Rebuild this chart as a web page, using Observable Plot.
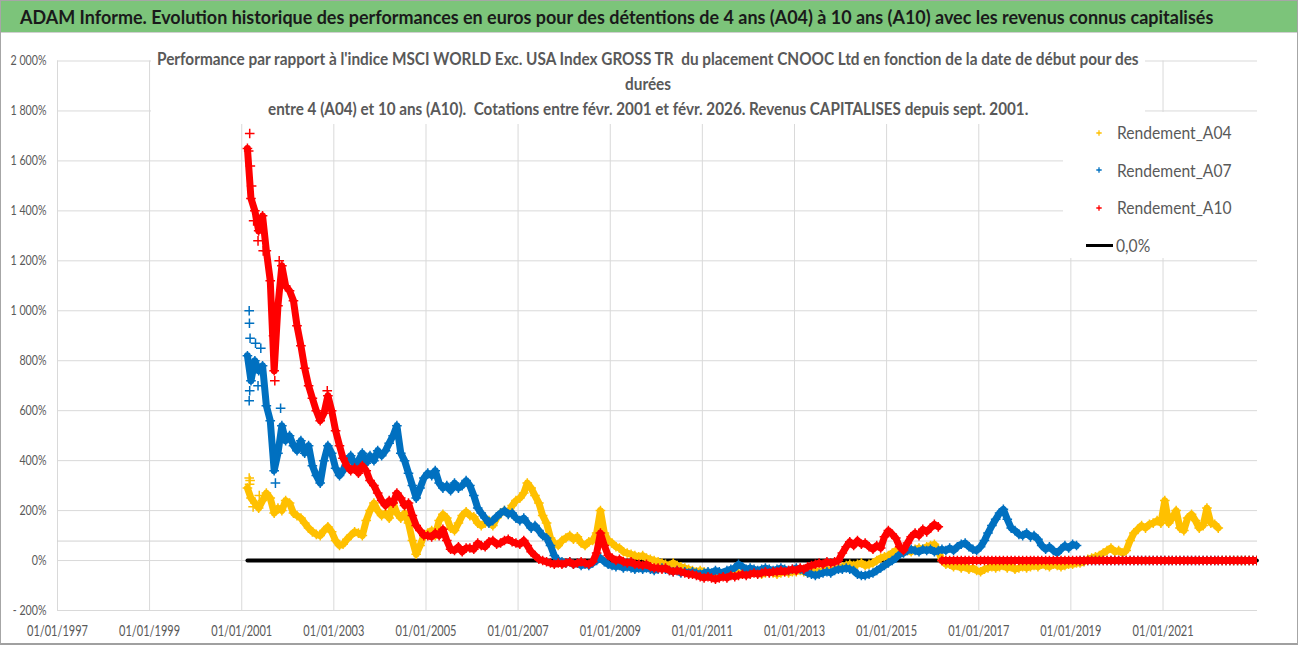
<!DOCTYPE html>
<html><head><meta charset="utf-8">
<script src="https://cdn.jsdelivr.net/npm/d3@7"></script>
<script src="https://cdn.jsdelivr.net/npm/@observablehq/plot@0.6"></script>
<style>
body{margin:0;background:#fff;}
#page{position:relative;width:1302px;height:647px;overflow:hidden;background:#fff;}
#titlebar{position:absolute;left:1px;top:1px;width:1296px;height:31px;background:#7cc47a;border-bottom:1px solid #d0d0d0;}
#chart{position:absolute;left:0;top:32px;}
#frame{position:absolute;left:0;top:0;width:1298px;height:645px;box-sizing:border-box;border:1px solid #a6a6a6;border-bottom:2px solid #a0a0a0;pointer-events:none;}
.box{position:absolute;background:#fff;}
</style></head>
<body><div id="page"><div id="titlebar"></div><div id="chart"></div>
<div class="box" id="subbox" style="left:151px;top:44px;width:994px;height:80px;"></div>
<div class="box" id="legbox" style="left:1063px;top:112px;width:197px;height:146px;"></div>
<div id="frame"></div></div>
<script>
const FONT = "Lato,'Open Sans','DejaVu Sans',sans-serif";

// ---- texts ----
const titleText = "ADAM Informe. Evolution historique des performances en euros pour des détentions de 4 ans (A04) à 10 ans (A10) avec les revenus connus capitalisés";
const subtitleLines = [
  "Performance par rapport à l'indice MSCI WORLD Exc. USA Index GROSS TR  du placement CNOOC Ltd en fonction de la date de début pour des",
  "durées",
  "entre 4 (A04) et 10 ans (A10).  Cotations entre févr. 2001 et févr. 2026. Revenus CAPITALISES depuis sept. 2001."
];
const seriesNames = ["Rendement_A04", "Rendement_A07", "Rendement_A10"];
const seriesColors = ["#FFC000", "#0070C0", "#FF0000"];
const zeroName = "0,0%";

// ---- axes ----
const xTickYears = [1997, 1999, 2001, 2003, 2005, 2007, 2009, 2011, 2013, 2015, 2017, 2019, 2021];
const yTicks = [-200, 0, 200, 400, 600, 800, 1000, 1200, 1400, 1600, 1800, 2000];
const xDomain = ["1997-01-01", "2023-01-20"];
const artifactLine = 78;

// ---- monthly values (%), one per month from Feb 2001 to Jan 2023 ----
const a04 = [
  290,250,230,210,240,270,250,190,210,200,240,            // 2001 Feb-Dec
  230,190,180,170,150,130,115,105,100,120,135,115,        // 2002
  80,60,65,85,100,115,110,100,160,200,230,200,            // 2003
  180,190,170,230,190,170,190,150,80,25,60,100,           // 2004
  110,120,100,160,185,170,130,120,150,180,195,180,        // 2005
  175,150,140,150,160,140,170,190,200,190,220,240,        // 2006
  250,270,310,290,260,230,180,150,90,70,60,80,            // 2007
  90,100,85,95,70,60,75,80,110,200,110,80,                // 2008
  70,55,50,35,30,25,20,15,20,10,5,0,                      // 2009
  -5,-10,-15,-20,-10,-20,-25,-30,-35,-40,-45,-40,         // 2010
  -45,-50,-55,-50,-55,-60,-55,-50,-55,-50,-55,-50,        // 2011
  -50,-45,-50,-55,-50,-45,-50,-55,-50,-45,-50,-45,        // 2012
  -45,-40,-45,-50,-45,-40,-45,-40,-35,-40,-35,-30,        // 2013
  -25,-20,-15,-20,-15,-10,-20,-15,-10,0,10,15,            // 2014
  20,30,40,35,45,40,35,45,50,45,55,60,                    // 2015
  65,40,0,-15,-15,-25,-20,-30,-25,-35,-30,-40,            // 2016
  -45,-35,-30,-25,-30,-25,-20,-30,-25,-35,-30,-25,        // 2017
  -30,-25,-20,-25,-15,-20,-25,-15,-20,-25,-20,-15,        // 2018
  -15,-10,-10,-5,5,10,15,20,30,40,50,35,                  // 2019
  40,30,40,80,110,125,140,130,145,150,160,150,            // 2020
  240,150,170,200,130,120,170,185,160,130,140,210,        // 2021
  150,145,130,0,0,0,0,0,0,0,0,0,                          // 2022
  0                                                       // 2023 Jan
];
const a07 = [
  820,720,800,760,780,620,560,360,430,540,480,            // 2001 Feb-Dec
  500,460,440,480,430,460,380,340,310,400,460,430,        // 2002
  370,340,360,400,420,380,400,430,390,420,400,440,        // 2003
  420,440,470,500,540,430,400,350,300,250,290,330,        // 2004
  350,340,360,310,290,300,280,310,290,300,320,300,        // 2005
  260,210,190,170,150,160,175,190,200,185,190,170,        // 2006
  160,170,150,130,140,120,100,90,60,20,0,-5,              // 2007
  -10,-5,-15,-10,-20,-15,-20,-10,0,10,-5,-15,             // 2008
  -20,-25,-20,-30,-25,-30,-35,-30,-35,-30,-35,-40,        // 2009
  -35,-30,-35,-40,-45,-40,-50,-45,-50,-45,-50,-55,        // 2010
  -50,-45,-50,-40,-45,-50,-40,-35,-30,-15,-25,-35,        // 2011
  -30,-35,-40,-35,-30,-35,-40,-35,-30,-35,-40,-35,        // 2012
  -30,-35,-40,-50,-55,-60,-55,-50,-45,-50,-40,-35,        // 2013
  -35,-30,-35,-40,-55,-60,-60,-55,-50,-40,-30,-20,        // 2014
  -10,0,10,25,30,40,45,40,35,45,40,45,                    // 2015
  35,40,45,40,50,40,55,65,70,55,45,40,                    // 2016
  55,80,110,140,165,190,205,165,130,120,105,100,          // 2017
  110,95,100,85,60,45,55,40,30,45,60,50,                  // 2018
  65,60,0,0,0,0,0,0,0,0,0,0,                              // 2019
  0,0,0,0,0,0,0,0,0,0,0,0,                                // 2020
  0,0,0,0,0,0,0,0,0,0,0,0,                                // 2021
  0,0,0,0,0,0,0,0,0,0,0,0,                                // 2022
  0                                                       // 2023 Jan
];
const a10 = [
  1650,1450,1400,1320,1380,1240,1120,760,1020,1180,1100,  // 2001 Feb-Dec
  1080,1040,940,860,770,700,650,600,560,590,660,600,      // 2002
  520,460,410,380,360,370,350,380,360,320,300,270,        // 2003
  240,220,240,230,270,250,220,230,180,140,120,100,        // 2004
  100,95,110,100,125,80,45,40,55,35,50,50,                // 2005
  45,70,60,55,75,80,65,70,80,85,75,70,                    // 2006
  65,80,60,35,20,5,0,-5,-10,-15,-10,-15,                  // 2007
  -10,-5,-15,-10,-5,-10,-15,-5,30,110,60,20,              // 2008
  10,0,5,-5,-10,-5,-15,-15,-20,-15,-25,-30,               // 2009
  -30,-35,-30,-40,-45,-40,-45,-50,-55,-55,-60,-65,        // 2010
  -70,-65,-70,-75,-70,-65,-70,-60,-65,-60,-55,-60,        // 2011
  -55,-50,-55,-50,-45,-50,-45,-45,-40,-45,-40,-35,        // 2012
  -40,-30,-35,-25,-20,-15,-10,-15,-5,-10,-5,0,            // 2013
  30,55,75,60,80,65,70,55,45,60,50,95,                    // 2014
  120,105,90,55,40,70,95,110,100,125,115,130,             // 2015
  145,135,0,0,0,0,0,0,0,0,0,0,                            // 2016
  0,0,0,0,0,0,0,0,0,0,0,0,                                // 2017
  0,0,0,0,0,0,0,0,0,0,0,0,                                // 2018
  0,0,0,0,0,0,0,0,0,0,0,0,                                // 2019
  0,0,0,0,0,0,0,0,0,0,0,0,                                // 2020
  0,0,0,0,0,0,0,0,0,0,0,0,                                // 2021
  0,0,0,0,0,0,0,0,0,0,0,0,                                // 2022
  0                                                       // 2023 Jan
];
// isolated early readings (date, %)
const a04Extra = [["2001-03-01",330],["2001-03-04",305],["2001-03-08",320],["2001-04-01",215],["2001-05-20",260]];
const a07Extra = [["2001-03-01",1000],["2001-03-03",950],["2001-03-08",890],["2001-03-01",640],["2001-03-05",680],["2001-04-20",870],["2001-05-10",700],["2001-06-01",850],["2001-09-25",310],["2001-11-05",610]];
const a10Extra = [["2001-03-05",1710],["2001-02-25",1640],["2001-03-10",1580],["2001-03-20",1500],["2001-04-05",1360],["2001-05-10",1280],["2001-06-20",1240],["2001-09-20",720],["2001-09-10",900],["2001-10-25",1200],["2002-11-10",680]];

// ---- build tables ----
const months = d3.range(264).map(i => new Date(Date.UTC(2001, 1 + i, 15)));
function toRows(vals) {
  let last = 0;
  vals.forEach((v, i) => { if (v !== 0) last = i; });
  return vals.map((v, i) => ({date: months[i], value: v, seg: i > last ? "tail" : "main"}));
}
const toExtra = arr => arr.map(([d, v]) => ({date: new Date(d + "T00:00Z"), value: v}));
const series = [
  {name: seriesNames[0], color: seriesColors[0], rows: toRows(a04), extra: toExtra(a04Extra)},
  {name: seriesNames[1], color: seriesColors[1], rows: toRows(a07), extra: toExtra(a07Extra)},
  {name: seriesNames[2], color: seriesColors[2], rows: toRows(a10), extra: toExtra(a10Extra)}
];
const zeroRows = [{date: months[0], value: 0}, {date: months[months.length - 1], value: 0}];
const xTicks = xTickYears.map(y => new Date(Date.UTC(y, 0, 1)));
const pct = v => (v < 0 ? "- " : "") + d3.format(",")(Math.abs(v)).replace(/,/g, " ") + "%";

const marks = [
  Plot.ruleX(xTicks, {x: d => d, y1: yTicks[0], y2: yTicks[yTicks.length - 1], stroke: "#d9d9d9"}),
  Plot.ruleY(yTicks, {stroke: "#d9d9d9"}),
  Plot.ruleY([artifactLine], {stroke: "#d2d2d2"}),
  Plot.axisX(xTicks, {tickSize: 0, tickPadding: 15, tickFormat: d => "01/01/" + d.getUTCFullYear(), fontSize: 15, fill: "#595959", label: null}),
  Plot.axisY(yTicks, {tickSize: 0, tickPadding: 11, tickFormat: pct, fontSize: 13.5, fill: "#595959", label: null}),
  Plot.line(zeroRows, {x: "date", y: "value", stroke: "#000", strokeWidth: 4})
];
for (const s of series) {
  marks.push(Plot.line(s.rows, {x: "date", y: "value", z: "seg", stroke: s.color, strokeWidth: 7, strokeLinejoin: "round", clip: true}));
  marks.push(Plot.dot(s.rows.concat(s.extra), {x: "date", y: "value", symbol: "plus", r: 3.2, stroke: s.color, strokeWidth: 1.5, clip: true}));
}

const chart = Plot.plot({
  width: 1302, height: 615,
  marginTop: 28.5, marginBottom: 37, marginLeft: 57, marginRight: 45,
  x: {type: "utc", domain: xDomain.map(d => new Date(d + "T00:00Z"))},
  y: {domain: [yTicks[0], yTicks[yTicks.length - 1]]},
  style: {fontFamily: FONT, background: "transparent", color: "#595959"},
  marks
});
document.getElementById("chart").appendChild(chart);

// compress tick labels to the reference's narrow face
function squeeze(selector, sample, target) {
  const texts = Array.from(chart.querySelectorAll(selector));
  const ref = texts.find(t => t.textContent === sample) || texts[0];
  if (!ref) return;
  const k = target / ref.getComputedTextLength();
  texts.forEach(t => {
    t.setAttribute("textLength", t.getComputedTextLength() * k);
    t.setAttribute("lengthAdjust", "spacingAndGlyphs");
  });
}
squeeze('g[aria-label="x-axis tick label"] text', "01/01/1997", 61);
squeeze('g[aria-label="y-axis tick label"] text', "2 000%", 36);

// ---- positioned texts ----
const page = document.getElementById("page");
function placeText(text, o) {
  const el = document.createElement("div");
  el.textContent = text;
  Object.assign(el.style, {position: "absolute", whiteSpace: "pre", fontFamily: FONT, fontSize: o.size + "px",
    fontWeight: o.weight || "normal", color: o.color, lineHeight: "1", top: (o.cy - o.size / 2) + "px", left: "0px"});
  page.insertBefore(el, document.getElementById("frame"));
  const w = el.offsetWidth;
  const k = o.width ? o.width / w : (o.scale || 1);
  const x0 = o.centerX != null ? o.centerX - w * k / 2 : o.left;
  el.style.left = x0 + "px";
  el.style.transformOrigin = "0 0";
  el.style.transform = `scaleX(${k})`;
  return k;
}
placeText(titleText, {left: 20, cy: 17.5, width: 1193, size: 18.5, weight: "bold", color: "#1a1a1a"});
const ks = placeText(subtitleLines[0], {centerX: 648, cy: 59.5, width: 982, size: 16.5, weight: "bold", color: "#595959"});
placeText(subtitleLines[1], {centerX: 648, cy: 84.5, scale: ks, size: 16.5, weight: "bold", color: "#595959"});
placeText(subtitleLines[2], {centerX: 648, cy: 109.5, width: 760, size: 16.5, weight: "bold", color: "#595959"});

// legend
const legY = [132.5, 170, 207.5, 245];
let kl = 1;
series.forEach((s, i) => {
  kl = placeText(s.name, {left: 1117, cy: legY[i], width: 115, size: 17, color: "#595959"});
  const ic = document.createElementNS("http://www.w3.org/2000/svg", "svg");
  ic.setAttribute("width", 10); ic.setAttribute("height", 10);
  ic.style.position = "absolute"; ic.style.left = "1094px"; ic.style.top = (legY[i] - 5) + "px";
  ic.innerHTML = `<path d="M5,2.3V7.7M2.3,5H7.7" stroke="${s.color}" stroke-width="1.3"/>`;
  page.insertBefore(ic, document.getElementById("frame"));
});
placeText(zeroName, {left: 1116, cy: legY[3], scale: kl, size: 17, color: "#595959"});
const zl = document.createElement("div");
Object.assign(zl.style, {position: "absolute", left: "1086px", top: (legY[3] - 1.5) + "px", width: "27px", height: "3px", background: "#000"});
page.insertBefore(zl, document.getElementById("frame"));
</script></body></html>
